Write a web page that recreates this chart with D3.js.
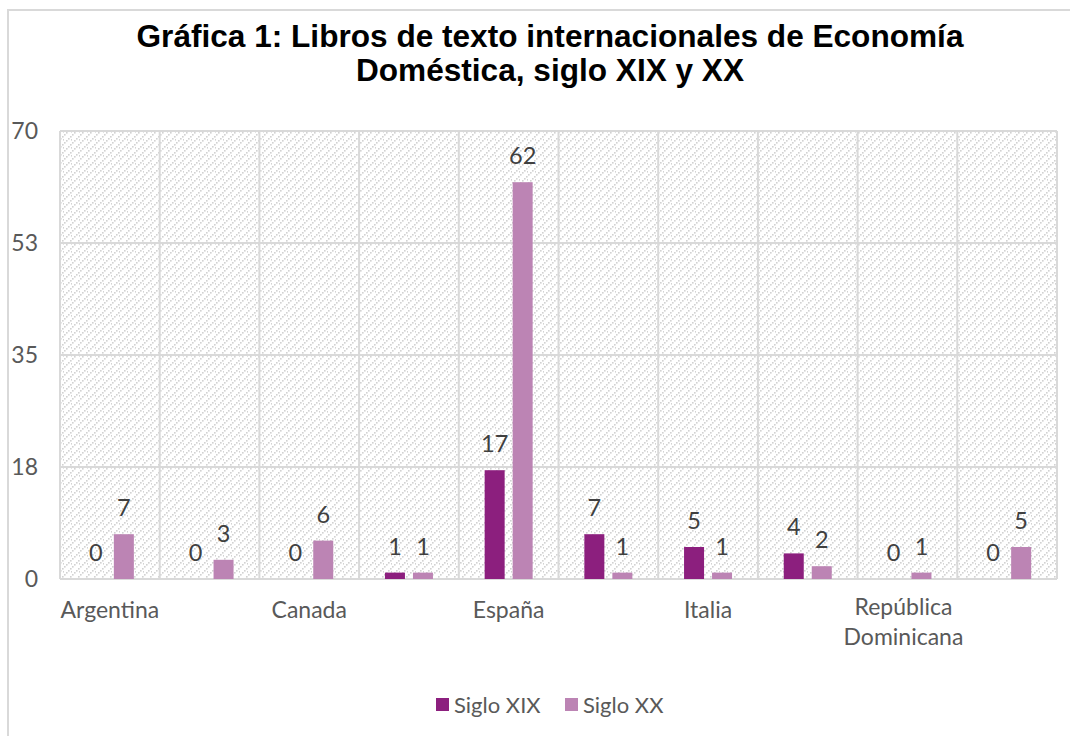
<!DOCTYPE html>
<html><head><meta charset="utf-8">
<script src="https://cdn.jsdelivr.net/npm/d3@7"></script>
<style>body{margin:0;background:#fff}svg{display:block}</style>
</head><body>
<svg id="c" width="1070" height="736"></svg>
<script>
const categories = ["Argentina","Bélgica","Canada","Chile","España","Francia","Italia","México","República Dominicana","Uruguay"];
const shownLabels = ["Argentina","Canada","España","Italia","República Dominicana"];
const sigloXIX = [0,0,0,1,17,7,5,4,0,0];
const sigloXX = [7,3,6,1,62,1,1,2,1,5];
const seriesNames = ["Siglo XIX","Siglo XX"];
const yTicks = [0,17.5,35,52.5,70];
const yTickLabels = ["0","18","35","53","70"];
const titleLines = ["Gráfica 1: Libros de texto internacionales de Economía","Doméstica, siglo XIX y XX"];

const colors = ["#8c1f7e","#bc84b4"];
const font = "Lato, 'Open Sans', sans-serif";
const svg = d3.select("#c");

// outer frame
svg.append("rect").attr("x",8).attr("y",10).attr("width",1080).attr("height",760)
  .attr("fill","#fff").attr("stroke","#d9d9d9").attr("stroke-width",2);

// pattern
const defs = svg.append("defs");
const pat = defs.append("pattern").attr("id","hatch").attr("patternUnits","userSpaceOnUse")
  .attr("width",8).attr("height",8);
pat.append("rect").attr("width",8).attr("height",8).attr("fill","#fff");
[[0,6],[2,4],[4,2],[6,0],[7,3]].forEach(([x,y])=>{
  pat.append("rect").attr("x",x).attr("y",y).attr("width",1.6).attr("height",1.6).attr("fill","#d2d2d2");
});

const L=60,R=1057,T=131,B=579;
const x = d3.scaleBand().domain(categories).range([L,R]);
const y = d3.scaleLinear().domain([0,70]).range([B,T]);

svg.append("rect").attr("x",L).attr("y",T).attr("width",R-L).attr("height",B-T).attr("fill","url(#hatch)");

// gridlines
svg.append("g").selectAll("line").data(yTicks).join("line")
  .attr("x1",L).attr("x2",R).attr("y1",d=>y(d)).attr("y2",d=>y(d))
  .attr("stroke","#d9d9d9").attr("stroke-width",2);
svg.append("g").selectAll("line").data(categories.concat(["__end"])).join("line")
  .attr("x1",(d,i)=>i<categories.length?x(d):R).attr("x2",(d,i)=>i<categories.length?x(d):R)
  .attr("y1",T).attr("y2",B).attr("stroke","#d9d9d9").attr("stroke-width",2);

// y tick labels
svg.append("g").selectAll("text").data(yTicks).join("text")
  .attr("x",38).attr("y",d=>y(d)+8).attr("text-anchor","end")
  .attr("font-family",font).attr("font-size",23).attr("fill","#595959")
  .text((d,i)=>yTickLabels[i]);

// bars
const bw=20, off=14;
const series=[sigloXIX,sigloXX];
series.forEach((vals,si)=>{
  const g=svg.append("g");
  const cx = d=>x(d)+x.bandwidth()/2 + (si===0?-off:off);
  g.selectAll("rect").data(categories).join("rect")
    .attr("x",d=>cx(d)-bw/2).attr("width",bw)
    .attr("y",(d,i)=>y(vals[i])).attr("height",(d,i)=>B-y(vals[i]))
    .attr("fill",colors[si]);
  g.selectAll("text").data(categories).join("text")
    .attr("x",d=>cx(d)).attr("y",(d,i)=>y(vals[i])-18)
    .attr("text-anchor","middle").attr("font-family",font).attr("font-size",23.5).attr("fill","#404040")
    .text((d,i)=>vals[i]);
});

// x labels
const xl = svg.append("g");
shownLabels.forEach(name=>{
  const cx = x(name)+x.bandwidth()/2;
  const t = xl.append("text").attr("x",cx).attr("y",618).attr("text-anchor","middle")
    .attr("font-family",font).attr("font-size",23).attr("fill","#595959");
  if(name==="República Dominicana"){
    t.append("tspan").attr("x",cx-4).attr("dy",-3).text("República");
    t.append("tspan").attr("x",cx-4).attr("dy",30).text("Dominicana");
  } else t.text(name);
});

// title
svg.append("g").selectAll("text").data(titleLines).join("text")
  .attr("x",550).attr("y",(d,i)=>47+i*34).attr("text-anchor","middle")
  .attr("font-family","'Liberation Sans', Arial, sans-serif").attr("font-weight","bold")
  .attr("font-size",31.6).attr("fill","#000").text(d=>d);

// legend
const lg = svg.append("g");
const lx=[436,565];
seriesNames.forEach((n,i)=>{
  lg.append("rect").attr("x",lx[i]).attr("y",698).attr("width",13).attr("height",13).attr("fill",colors[i]);
  lg.append("text").attr("x",lx[i]+18).attr("y",713).attr("font-family",font).attr("font-size",22)
    .attr("fill","#595959").text(n);
});
</script>
</body></html>
